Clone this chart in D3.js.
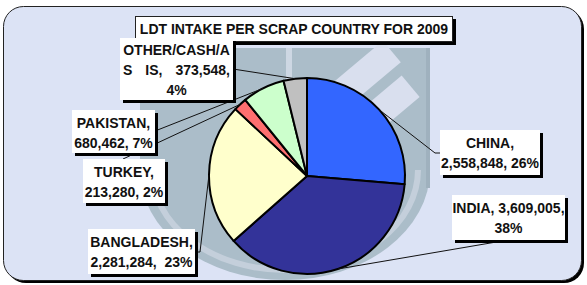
<!DOCTYPE html>
<html>
<head>
<meta charset="utf-8">
<script src="https://cdn.jsdelivr.net/npm/d3@7"></script>
<style>
  html, body { margin: 0; padding: 0; background: #fff; }
  svg text { font-family: "Liberation Sans", Arial, sans-serif; font-weight: bold; fill: #111; }
</style>
</head>
<body>
<svg id="chart"></svg>
<script>
const width = 587, height = 285;

// data
const countries = ["CHINA", "INDIA", "BANGLADESH", "TURKEY", "PAKISTAN", "OTHER/CASH/AS IS"];
const ldt = [2558848, 3609005, 2281284, 213280, 680462, 373548];
const pct = ["26%", "38%", "23%", "2%", "7%", "4%"];
const colors = ["#3366ff", "#333399", "#ffffcc", "#ff6f6f", "#ccffcc", "#c0c0c0"];
const title = "LDT INTAKE PER SCRAP COUNTRY FOR 2009";

// label text lines as they are wrapped in the picture
// (an array inside a line = justified pieces)
const labelLines = [
    ["CHINA,", "2,558,848, 26%"],
    ["INDIA, 3,609,005,", "38%"],
    ["BANGLADESH,", "2,281,284,\u00a0\u00a023%"],
    ["TURKEY,", "213,280, 2%"],
    ["PAKISTAN,", "680,462, 7%"],
    ["OTHER/CASH/A", ["S", "IS,", "373,548,"], "4%"]
];

// label boxes [x, y, w, h] and leader start points (layout only)
const boxes = [
    [440, 130, 100, 45],
    [452, 195, 113, 45],
    [88, 229, 107, 45],
    [83, 159, 82, 44],
    [72, 110, 83, 43],
    [120, 38, 113, 62]
];
const leaderFrom = [
    [[440, 153], [435, 153]],
    [[508, 240]],
    [[195, 252], [200, 252]],
    [[123, 159]],
    [[155, 131]],
    [[233, 69]]
];

const cx = 307, cy = 176, r = 98;

const svg = d3.select("#chart")
    .attr("width", width)
    .attr("height", height);

// frame
svg.append("rect")
    .attr("x", 6).attr("y", 9)
    .attr("width", 578).attr("height", 274)
    .attr("rx", 20).attr("ry", 20)
    .style("fill", "#000");
svg.append("rect")
    .attr("x", 3.5).attr("y", 6.5)
    .attr("width", 578).attr("height", 274)
    .attr("rx", 20).attr("ry", 20)
    .style("fill", "#dce3f5")
    .style("stroke", "#222")
    .style("stroke-width", 1);

//////////////////////////// watermark ////////////////////////////
const wm = svg.append("g");
wm.append("path")
    .attr("d", "M140,48 L430,48 L430,170 A145,110 0 0 1 140,170 Z")
    .style("fill", "#abbdc9");
wm.append("path")
    .attr("d", "M152,170 A133,100 0 0 0 418,170")
    .style("fill", "none")
    .style("stroke", "#c4cfdb")
    .style("stroke-width", 6);
wm.append("rect")
    .attr("x", 286).attr("y", 48).attr("width", 6).attr("height", 60)
    .style("fill", "#cdd7e3");
wm.append("rect")
    .attr("x", 426).attr("y", 48).attr("width", 4).attr("height", 140)
    .style("fill", "#9fb1be");
wm.append("rect")
    .attr("x", 330).attr("y", 60).attr("width", 70).attr("height", 28)
    .attr("transform", "rotate(-40 365 74)")
    .style("fill", "#d9dfee");
wm.append("rect")
    .attr("x", 340).attr("y", 98).attr("width", 80).attr("height", 28)
    .attr("transform", "rotate(-40 380 112)")
    .style("fill", "#d9dfee");

//////////////////////////// pie ////////////////////////////
const pie = d3.pie().sort(null).value(d => d);
const arcs = pie(ldt);
const arc = d3.arc().innerRadius(0).outerRadius(r);

const g = svg.append("g").attr("transform", `translate(${cx},${cy})`);
g.selectAll("path")
    .data(arcs)
    .enter().append("path")
    .attr("d", arc)
    .style("fill", (d, i) => colors[i])
    .style("stroke", "#000")
    .style("stroke-width", 2)
    .style("stroke-linejoin", "round");

//////////////////////////// leader lines ////////////////////////////
const edge = d3.arc().innerRadius(r).outerRadius(r);
arcs.forEach(function (d, i) {
    const c = edge.centroid(d);
    const pts = leaderFrom[i].concat([[cx + c[0], cy + c[1]]]);
    svg.append("path")
        .attr("d", d3.line()(pts))
        .style("fill", "none")
        .style("stroke", "#111")
        .style("stroke-width", 1);
});

//////////////////////////// boxes ////////////////////////////
function box(x, y, w, h) {
    svg.append("rect")
        .attr("x", x + 3).attr("y", y + 3)
        .attr("width", w).attr("height", h)
        .style("fill", "#000");
    svg.append("rect")
        .attr("x", x).attr("y", y)
        .attr("width", w).attr("height", h)
        .style("fill", "#fff");
}

// title
box(135, 16, 318, 26);
svg.append("rect")
    .attr("x", 135.5).attr("y", 16.5).attr("width", 317).attr("height", 25)
    .style("fill", "none").style("stroke", "#222").style("stroke-width", 1);
svg.append("text")
    .attr("x", 294).attr("y", 33.5)
    .attr("text-anchor", "middle")
    .style("font-size", "14px")
    .text(title);

boxes.forEach(function (b, i) {
    box(b[0], b[1], b[2], b[3]);
    const lines = labelLines[i];
    lines.forEach(function (s, k) {
        const y = b[1] + 18 + k * 20 - (lines.length === 3 ? 1 : 0);
        if (Array.isArray(s)) {
            // justified line: spread the pieces across the box
            const x0 = b[0] + 3, x1 = b[0] + b[2] - 3;
            const ts = s.map(piece => svg.append("text")
                .attr("y", y)
                .style("font-size", "14px")
                .text(piece));
            const ws = ts.map(t => t.node().getComputedTextLength());
            const gap = (x1 - x0 - d3.sum(ws)) / (s.length - 1);
            let x = x0;
            ts.forEach(function (t, j) {
                t.attr("x", x);
                x += ws[j] + gap;
            });
        } else {
            svg.append("text")
                .attr("x", b[0] + b[2] / 2)
                .attr("y", y)
                .attr("text-anchor", "middle")
                .style("font-size", "14px")
                .text(s);
        }
    });
});
</script>
</body>
</html>
